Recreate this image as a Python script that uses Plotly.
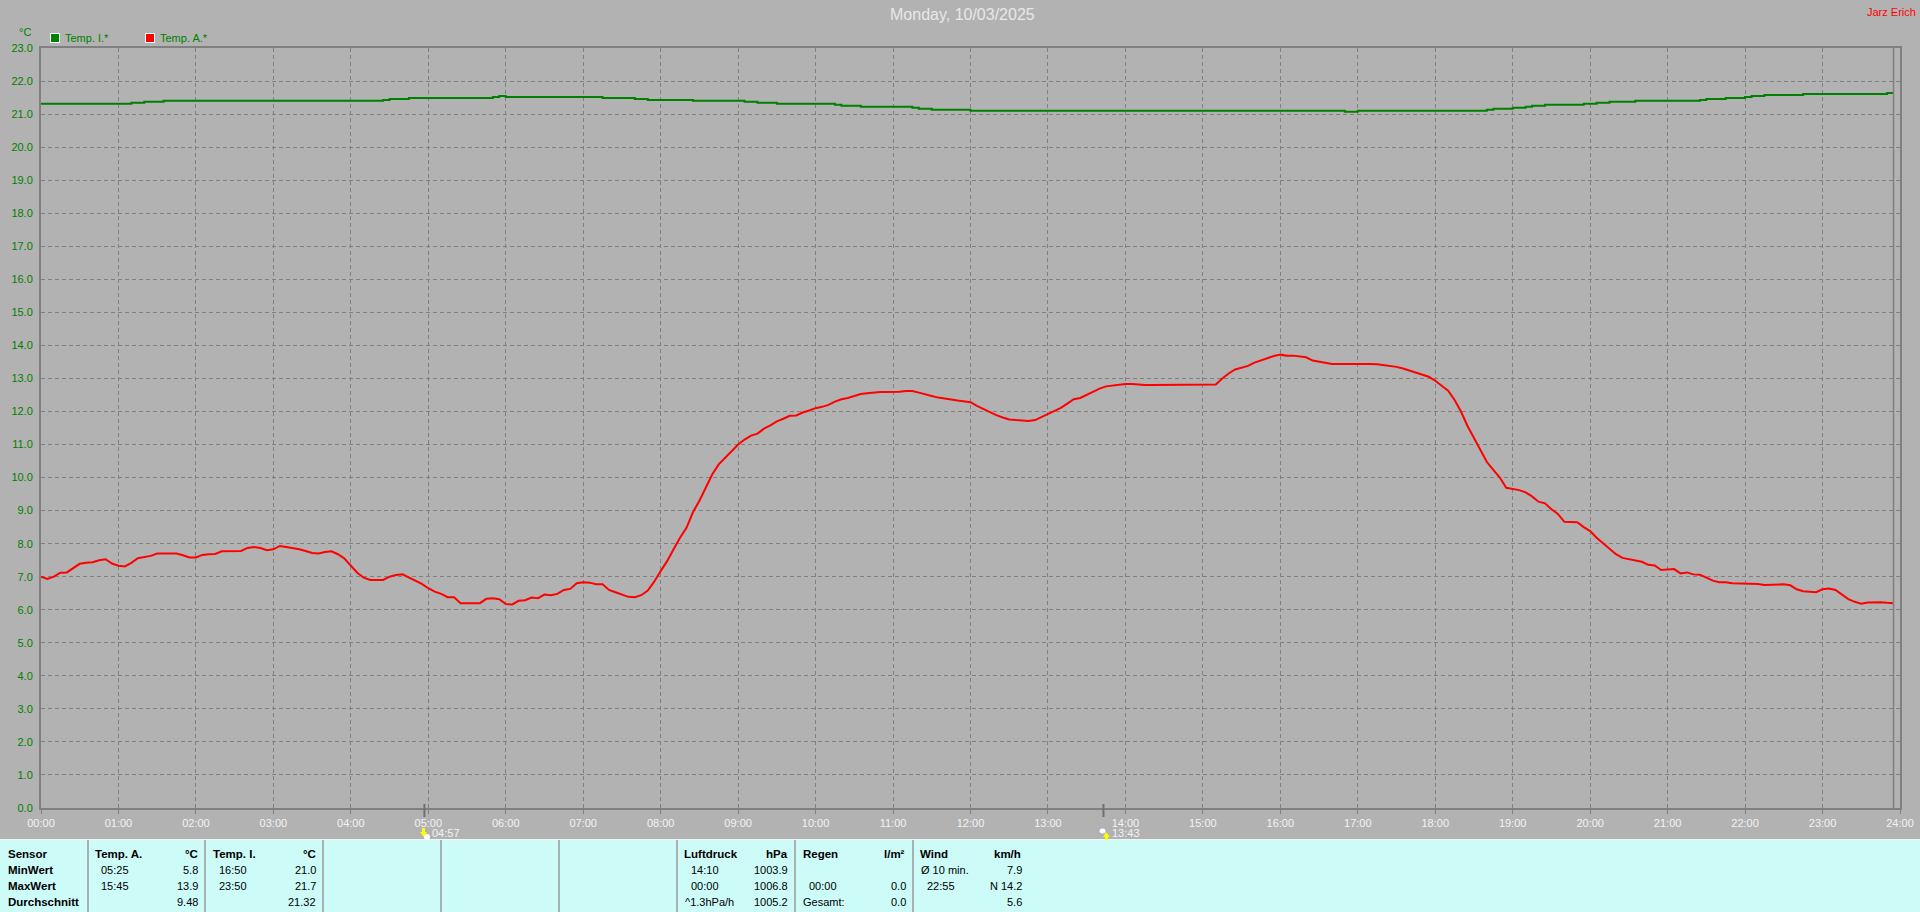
import plotly.graph_objects as go

# ---------- data ----------
sample_minutes = list(range(0, 1440, 5))
hour_labels = ["%02d:00" % h for h in range(25)]
hour_ticks = [h * 60 for h in range(25)]
temp_ticks = list(range(0, 24))

temp_a = [
 7.00,6.93,7.00,7.12,7.13,7.25,7.39,7.42,7.44,7.50,7.53,7.40,
 7.33,7.31,7.42,7.56,7.60,7.63,7.70,7.70,7.70,7.70,7.65,7.58,
 7.58,7.66,7.68,7.69,7.77,7.77,7.77,7.78,7.87,7.90,7.87,7.80,
 7.83,7.93,7.90,7.87,7.83,7.78,7.72,7.70,7.75,7.77,7.68,7.55,
 7.32,7.12,6.97,6.90,6.90,6.90,7.00,7.05,7.07,6.97,6.88,6.78,
 6.65,6.55,6.48,6.38,6.38,6.20,6.20,6.20,6.20,6.33,6.35,6.32,
 6.17,6.16,6.27,6.29,6.37,6.35,6.46,6.44,6.48,6.60,6.63,6.80,
 6.83,6.82,6.77,6.77,6.60,6.53,6.46,6.39,6.38,6.44,6.58,6.85,
 7.17,7.47,7.83,8.18,8.48,8.95,9.30,9.70,10.10,10.40,10.60,10.80,
 11.00,11.15,11.27,11.33,11.48,11.58,11.70,11.78,11.87,11.88,11.97,12.03,
 12.10,12.14,12.20,12.30,12.37,12.41,12.47,12.53,12.55,12.58,12.59,12.59,
 12.59,12.60,12.62,12.62,12.57,12.53,12.47,12.42,12.38,12.36,12.33,12.30,
 12.28,12.17,12.07,11.99,11.89,11.82,11.76,11.74,11.73,11.71,11.74,11.83,
 11.92,12.01,12.11,12.24,12.37,12.41,12.51,12.59,12.69,12.76,12.79,12.81,
 12.83,12.83,12.81,12.80,12.80,12.80,12.80,12.80,12.80,12.80,12.80,12.80,
 12.80,12.80,12.82,13.00,13.15,13.27,13.33,13.38,13.48,13.55,13.60,13.68,
 13.72,13.69,13.69,13.67,13.64,13.54,13.50,13.48,13.44,13.44,13.44,13.44,
 13.46,13.46,13.44,13.43,13.41,13.38,13.35,13.30,13.24,13.18,13.12,13.05,
 12.93,12.77,12.63,12.35,11.99,11.56,11.20,10.85,10.47,10.23,10.00,9.69,
 9.65,9.62,9.55,9.43,9.27,9.22,9.04,8.90,8.66,8.65,8.65,8.50,
 8.38,8.18,8.01,7.83,7.68,7.57,7.53,7.48,7.45,7.36,7.34,7.20,
 7.21,7.23,7.10,7.13,7.07,7.06,6.97,6.88,6.83,6.83,6.80,6.80,
 6.80,6.80,6.78,6.75,6.75,6.77,6.77,6.74,6.62,6.56,6.54,6.53,
 6.62,6.64,6.60,6.45,6.32,6.24,6.18,6.22,6.23,6.23,6.21,6.20,
]

temp_i = [
 21.31,21.31,21.31,21.31,21.31,21.31,21.31,21.31,21.31,21.31,21.31,21.31,
 21.31,21.31,21.34,21.34,21.37,21.37,21.37,21.40,21.40,21.40,21.40,21.40,
 21.40,21.40,21.40,21.40,21.40,21.40,21.40,21.40,21.40,21.40,21.40,21.40,
 21.40,21.40,21.40,21.40,21.40,21.40,21.40,21.40,21.40,21.40,21.40,21.40,
 21.40,21.40,21.40,21.40,21.40,21.43,21.46,21.46,21.46,21.49,21.49,21.49,
 21.49,21.49,21.49,21.49,21.49,21.49,21.49,21.49,21.49,21.49,21.52,21.55,
 21.52,21.52,21.52,21.52,21.52,21.52,21.52,21.52,21.52,21.52,21.52,21.52,
 21.52,21.52,21.52,21.49,21.49,21.49,21.49,21.49,21.46,21.46,21.43,21.43,
 21.43,21.43,21.43,21.43,21.43,21.40,21.40,21.40,21.40,21.40,21.40,21.40,
 21.40,21.37,21.37,21.34,21.34,21.34,21.31,21.31,21.31,21.31,21.31,21.31,
 21.31,21.31,21.31,21.28,21.25,21.25,21.25,21.22,21.22,21.22,21.22,21.22,
 21.22,21.22,21.22,21.19,21.16,21.16,21.13,21.13,21.13,21.13,21.13,21.13,
 21.10,21.10,21.10,21.10,21.10,21.10,21.10,21.10,21.10,21.10,21.10,21.10,
 21.10,21.10,21.10,21.10,21.10,21.10,21.10,21.10,21.10,21.10,21.10,21.10,
 21.10,21.10,21.10,21.10,21.10,21.10,21.10,21.10,21.10,21.10,21.10,21.10,
 21.10,21.10,21.10,21.10,21.10,21.10,21.10,21.10,21.10,21.10,21.10,21.10,
 21.10,21.10,21.10,21.10,21.10,21.10,21.10,21.10,21.10,21.10,21.07,21.07,
 21.10,21.10,21.10,21.10,21.10,21.10,21.10,21.10,21.10,21.10,21.10,21.10,
 21.10,21.10,21.10,21.10,21.10,21.10,21.10,21.10,21.13,21.16,21.16,21.16,
 21.19,21.19,21.22,21.25,21.25,21.28,21.28,21.28,21.28,21.28,21.28,21.31,
 21.31,21.34,21.34,21.37,21.37,21.37,21.37,21.40,21.40,21.40,21.40,21.40,
 21.40,21.40,21.40,21.40,21.40,21.43,21.46,21.46,21.46,21.49,21.49,21.49,
 21.52,21.55,21.55,21.58,21.58,21.58,21.58,21.58,21.58,21.61,21.61,21.61,
 21.61,21.61,21.61,21.61,21.61,21.61,21.61,21.61,21.61,21.61,21.64,21.64,
]

sunrise_minute, sunrise_label = 297, "04:57"
sunset_minute, sunset_label = 823, "13:43"
last_sample_minute = 1435

title_text = "Monday, 10/03/2025"
author_text = "Jarz Erich"
unit_text = "°C"
legend_names = ["Temp. I.*", "Temp. A.*"]

# (text, x pixel, anchor, row, bold)
table_cells = [
 ("Sensor", 8, "left", 0, True), ("MinWert", 8, "left", 1, True),
 ("MaxWert", 8, "left", 2, True), ("Durchschnitt", 8, "left", 3, True),
 ("Temp. A.", 95, "left", 0, True), ("°C", 198, "right", 0, True),
 ("05:25", 101, "left", 1, False), ("5.8", 198, "right", 1, False),
 ("15:45", 101, "left", 2, False), ("13.9", 198, "right", 2, False),
 ("9.48", 198, "right", 3, False),
 ("Temp. I.", 213, "left", 0, True), ("°C", 316, "right", 0, True),
 ("16:50", 219, "left", 1, False), ("21.0", 316, "right", 1, False),
 ("23:50", 219, "left", 2, False), ("21.7", 316, "right", 2, False),
 ("21.32", 316, "right", 3, False),
 ("Luftdruck", 684, "left", 0, True), ("hPa", 788, "right", 0, True),
 ("14:10", 691, "left", 1, False), ("1003.9", 788, "right", 1, False),
 ("00:00", 691, "left", 2, False), ("1006.8", 788, "right", 2, False),
 ("^1.3hPa/h", 685, "left", 3, False), ("1005.2", 788, "right", 3, False),
 ("Regen", 803, "left", 0, True), ("l/m²", 905, "right", 0, True),
 ("00:00", 809, "left", 2, False), ("0.0", 906, "right", 2, False),
 ("Gesamt:", 803, "left", 3, False), ("0.0", 906, "right", 3, False),
 ("Wind", 920, "left", 0, True), ("km/h", 1021, "right", 0, True),
 ("Ø 10 min.", 921, "left", 1, False), ("7.9", 1022, "right", 1, False),
 ("22:55", 927, "left", 2, False), ("N 14.2", 1022, "right", 2, False),
 ("5.6", 1022, "right", 3, False),
]
table_rows_y = [854, 870, 886, 902]
table_separators = [88, 205, 323, 441, 559, 677, 795, 913]

# ---------- styles ----------
W, H = 1920, 912
L, R, T, B = 41, 1900, 48, 808
BG = "#B2B2B2"
PANEL = "#CCFBF8"
GRAY = "#808080"
GREEN = "#008000"
RED = "#FF0000"
FONT = "Liberation Sans"


def px(x):
    return (x - L) / (R - L)


def py(y):
    return (B - y) / (B - T)


def label(text, x, y, color="black", size=11, anchor="left", bold=False):
    return dict(
        text="<b>%s</b>" % text if bold else text,
        x=px(x), y=py(y), xref="paper", yref="paper",
        xanchor=anchor, yanchor="middle", showarrow=False,
        borderpad=0, borderwidth=0,
        font=dict(family=FONT, size=11.5 if bold else size, color=color),
    )


def rect(x0, y0, x1, y1, fill, line=None):
    return dict(
        type="rect", xref="paper", yref="paper",
        x0=px(x0), x1=px(x1), y0=py(y0), y1=py(y1),
        fillcolor=fill, line=dict(color=line or fill, width=1),
    )


def pxpath(points, fill):
    d = "M " + " L ".join("%.5f %.5f" % (px(a), py(b)) for a, b in points) + " Z"
    return dict(type="path", path=d, xref="paper", yref="paper",
                fillcolor=fill, line=dict(color=fill, width=0))


fig = go.Figure()
fig.add_trace(go.Scatter(x=sample_minutes, y=temp_i, mode="lines", name=legend_names[0],
                         line=dict(color=GREEN, width=2, shape="hv")))
fig.add_trace(go.Scatter(x=sample_minutes, y=temp_a, mode="lines", name=legend_names[1],
                         line=dict(color=RED, width=2)))

shapes = [
    rect(0, 840, W, H, PANEL),
    dict(type="line", xref="paper", yref="paper", x0=px(0), x1=px(W),
         y0=py(839.5), y1=py(839.5), line=dict(color="#F4F4F4", width=1)),
    dict(type="line", xref="x", yref="paper", x0=last_sample_minute, x1=last_sample_minute,
         y0=0, y1=1, line=dict(color=GRAY, width=1.5)),
]
for sx in table_separators:
    shapes.append(dict(type="line", xref="paper", yref="paper", x0=px(sx), x1=px(sx),
                       y0=py(840), y1=py(H), line=dict(color="#9A9A9A", width=1.5)))
for m in (sunrise_minute, sunset_minute):
    shapes.append(dict(type="line", xref="x", yref="paper", x0=m, x1=m,
                       y0=py(804), y1=py(817), line=dict(color="#707070", width=2)))

# legend swatches
shapes.append(rect(50.5, 33.5, 59.5, 42.5, GREEN, "white"))
shapes.append(rect(145.5, 33.5, 154.5, 42.5, RED, "white"))

# sunrise / sunset icons
shapes.append(pxpath([(422, 828), (425, 828), (425, 832), (427, 832), (423.5, 837), (420, 832), (422, 832)], "#FFFF00"))
shapes.append(dict(type="circle", xref="paper", yref="paper", x0=px(424), x1=px(430),
                   y0=py(834), y1=py(840), fillcolor="white", line=dict(color="white", width=0)))
shapes.append(dict(type="circle", xref="paper", yref="paper", x0=px(1099), x1=px(1106),
                   y0=py(828), y1=py(834), fillcolor="white", line=dict(color="#8080C0", width=0.5)))
shapes.append(pxpath([(1106, 832), (1110, 837), (1108, 837), (1108, 840), (1105, 840), (1105, 837), (1103, 837)], "#FFFF00"))

annotations = [
    label(title_text, 962, 15, color="#E8E8E8", size=16, anchor="center"),
    label(author_text, 1916, 12, color=RED, size=11, anchor="right"),
    label(unit_text, 25, 32, color=GREEN, size=11, anchor="center"),
    label(legend_names[0], 65, 38, color=GREEN),
    label(legend_names[1], 160, 38, color=GREEN),
    label(sunrise_label, 432, 833, color="#F2F2F2"),
    label(sunset_label, 1112, 833, color="#F2F2F2"),
]
for text, x, anchor, row, bold in table_cells:
    annotations.append(label(text, x, table_rows_y[row], anchor=anchor, bold=bold))

fig.update_layout(
    width=W, height=H, autosize=False,
    margin=dict(l=L, r=W - R, t=T, b=H - B, pad=0, autoexpand=False),
    paper_bgcolor=BG, plot_bgcolor=BG,
    showlegend=False,
    shapes=shapes, annotations=annotations,
    font=dict(family=FONT, size=11),
    xaxis=dict(
        range=[0, 1440], tickmode="array", tickvals=hour_ticks, ticktext=hour_labels,
        tickfont=dict(family=FONT, size=11, color="#F2F2F2"),
        ticks="outside", ticklen=4, tickcolor=GRAY, tickwidth=1,
        showgrid=True, gridcolor=GRAY, gridwidth=1, griddash="4px,3px",
        showline=True, linecolor=GRAY, linewidth=2, mirror=True, zeroline=False,
    ),
    yaxis=dict(
        range=[0, 23], tickmode="array", tickvals=temp_ticks,
        ticktext=["%.1f" % v for v in temp_ticks],
        tickfont=dict(family=FONT, size=11, color=GREEN),
        ticks="", ticklabelstandoff=4,
        showgrid=True, gridcolor=GRAY, gridwidth=1, griddash="4px,3px",
        showline=True, linecolor=GRAY, linewidth=2, mirror=True, zeroline=False,
    ),
)

assert len(temp_a) == 288 and len(temp_i) == 288, (len(temp_a), len(temp_i))
fig.write_html("out.html", config={"displayModeBar": False},
               post_script="document.body.style.margin='0';document.body.style.overflow='hidden';")
